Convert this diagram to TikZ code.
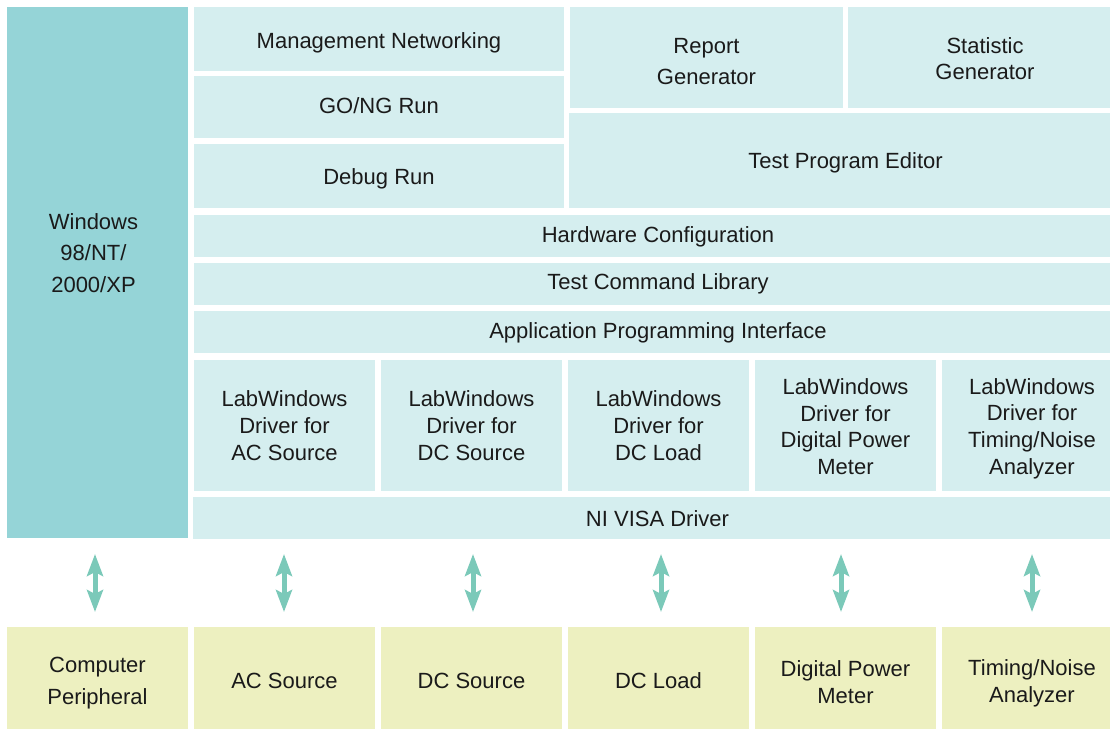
\documentclass[tikz,border=0pt]{standalone}
\usepackage{fontspec}
\setmainfont{Liberation Sans}
\usetikzlibrary{arrows.meta}
\definecolor{winc}{HTML}{95D4D7}
\definecolor{boxc}{HTML}{D5EEEF}
\definecolor{devc}{HTML}{EDF0C0}
\definecolor{arrc}{HTML}{7BC9B9}
\definecolor{txtc}{HTML}{1A1A1A}
\tikzset{
  blk/.style={anchor=north west, inner sep=0pt, outer sep=0pt},
  sw/.style={blk, fill=boxc},
  dev/.style={blk, fill=devc},
  lbl/.style={inner sep=0pt, align=center, text=txtc, font=\fontsize{22}{26.7}\selectfont},
  wide/.style={font=\fontsize{22}{31.5}\selectfont},
  biarrow/.style={line width=5pt, draw=arrc,
    {Stealth[length=22pt, width=16pt, inset=4pt]}-{Stealth[length=22pt, width=16pt, inset=4pt]}}
}
\begin{document}
\begin{tikzpicture}[x=1pt, y=-1pt]
\useasboundingbox (0,0) rectangle (1110,729);
\clip (0,0) rectangle (1110,729);
% Windows column
\node[blk, fill=winc, minimum width=181pt, minimum height=531pt] (win) at (7,7) {};
\node[lbl, wide] (wintxt) at (93.5,253) {Windows\\98/NT/\\2000/XP};
% upper left stack
\node[sw, minimum width=370pt, minimum height=64pt] (mgmt) at (194,7) {};
\node[sw, minimum width=370pt, minimum height=62pt] (gong) at (194,76) {};
\node[sw, minimum width=370pt, minimum height=64pt] (debug) at (194,144) {};
% upper right
\node[sw, minimum width=273pt, minimum height=101pt] (report) at (570,7) {};
\node[sw, minimum width=274pt, minimum height=101pt] (stat) at (848,7) {};
\node[sw, minimum width=553pt, minimum height=95pt] (editor) at (569,113) {};
% full-width layers
\node[sw, minimum width=928pt, minimum height=42pt] (hw) at (194,215) {};
\node[sw, minimum width=928pt, minimum height=42pt] (lib) at (194,263) {};
\node[sw, minimum width=928pt, minimum height=42pt] (api) at (194,311) {};
% drivers
\node[sw, minimum width=181pt, minimum height=131pt] (d1) at (194,360) {};
\node[sw, minimum width=181pt, minimum height=131pt] (d2) at (381,360) {};
\node[sw, minimum width=181pt, minimum height=131pt] (d3) at (568,360) {};
\node[sw, minimum width=181pt, minimum height=131pt] (d4) at (755,360) {};
\node[sw, minimum width=180pt, minimum height=131pt] (d5) at (942,360) {};
\node[sw, minimum width=929pt, minimum height=42pt] (visa) at (193,497) {};
% devices
\node[dev, minimum width=181pt, minimum height=102pt] (comp) at (7,627) {};
\node[dev, minimum width=181pt, minimum height=102pt] (ac) at (194,627) {};
\node[dev, minimum width=181pt, minimum height=102pt] (dcs) at (381,627) {};
\node[dev, minimum width=181pt, minimum height=102pt] (dcl) at (568,627) {};
\node[dev, minimum width=181pt, minimum height=102pt] (dpm) at (755,627) {};
\node[dev, minimum width=180pt, minimum height=102pt] (tna) at (942,627) {};
% labels
\node[lbl] (tmgmt) at ([yshift=-4pt]mgmt.center) {Management Networking};
\node[lbl] (tgong) at ([yshift=1pt]gong.center) {GO/NG Run};
\node[lbl] (tdebug) at ([yshift=-3pt]debug.center) {Debug Run};
\node[lbl, wide] (treport) at ([yshift=-4pt]report.center) {Report\\Generator};
\node[lbl] (tstat) at ([yshift=-1pt]stat.center) {Statistic\\Generator};
\node[lbl] (teditor) at ([yshift=-2pt]editor.center) {Test Program Editor};
\node[lbl] (thw) at ([yshift=-1pt]hw.center) {Hardware Configuration};
\node[lbl] (tlib) at (lib.center) {Test Command Library};
\node[lbl] (tapi) at ([yshift=-1pt]api.center) {Application Programming Interface};
\node[lbl] (td1) at (d1.center) {LabWindows\\Driver for\\AC Source};
\node[lbl] (td2) at (d2.center) {LabWindows\\Driver for\\DC Source};
\node[lbl] (td3) at (d3.center) {LabWindows\\Driver for\\DC Load};
\node[lbl] (td4) at ([yshift=-1pt]d4.center) {LabWindows\\Driver for\\Digital Power\\Meter};
\node[lbl] (td5) at ([yshift=-3pt]d5.center) {LabWindows\\Driver for\\Timing/Noise\\Analyzer};
\node[lbl] (tvisa) at ([yshift=-1pt]visa.center) {NI VISA Driver};
\node[lbl, wide] (tcomp) at ([yshift=-5pt]comp.center) {Computer\\Peripheral};
\node[lbl] (tac) at ([yshift=-3pt]ac.center) {AC Source};
\node[lbl] (tdcs) at ([yshift=-3pt]dcs.center) {DC Source};
\node[lbl] (tdcl) at ([yshift=-3pt]dcl.center) {DC Load};
\node[lbl] (tdpm) at ([yshift=-4pt]dpm.center) {Digital Power\\Meter};
\node[lbl] (ttna) at ([yshift=-5pt]tna.center) {Timing/Noise\\Analyzer};
% arrows
\foreach \n/\x in {1/95, 2/284, 3/473, 4/661, 5/841, 6/1032} {
  \coordinate (at\n) at (\x,554);
  \coordinate (ab\n) at (\x,612);
  \draw[biarrow] (at\n) -- (ab\n);
}
\end{tikzpicture}
\end{document}
